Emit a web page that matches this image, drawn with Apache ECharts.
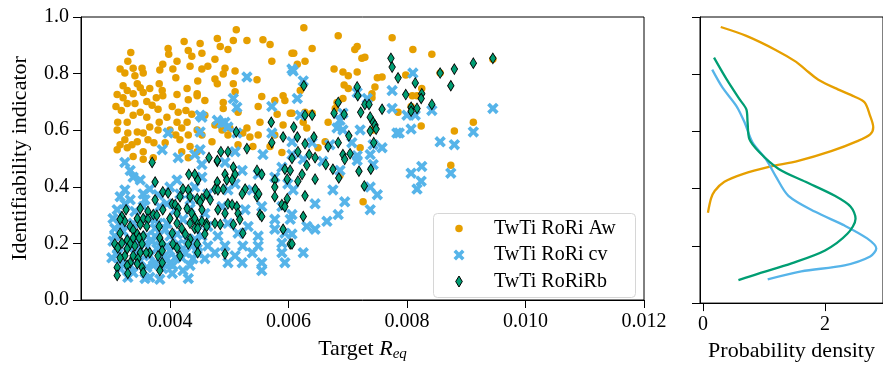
<!DOCTYPE html>
<html><head><meta charset="utf-8">
<script src="https://cdn.jsdelivr.net/npm/echarts@6/dist/echarts.min.js"></script>
<style>html,body{margin:0;padding:0;background:#fff}#c{width:883px;height:367px}</style>
</head><body><div id="c"></div>
<script>
// ---- data ----
const seriesNames = ['TwTi RoRi Aw', 'TwTi RoRi cv', 'TwTi RoRiRb'];
const xTickValues = [0.004, 0.006, 0.008, 0.010, 0.012];
const densityTickValues = [0, 2];

const awPoints = [
[0.00424,0.913],[0.00397,0.889],[0.00334,0.875],[0.00398,0.868],[0.00431,0.882],[0.00437,0.861],[0.00329,0.844],[0.00412,0.844],[0.00388,0.833],[0.00434,0.826],
[0.00338,0.819],[0.00316,0.816],[0.00353,0.819],[0.00383,0.813],[0.00405,0.816],[0.00324,0.802],[0.00355,0.802],[0.00341,0.792],[0.00410,0.785],[0.00447,0.774],
[0.00345,0.764],[0.00382,0.764],[0.00321,0.757],[0.00350,0.750],[0.00366,0.747],[0.00429,0.747],[0.00328,0.740],[0.00387,0.740],[0.00355,0.733],[0.00311,0.726],
[0.00338,0.729],[0.00412,0.726],[0.00321,0.715],[0.00377,0.715],[0.00388,0.722],[0.00431,0.708],[0.00446,0.722],[0.00361,0.701],[0.00328,0.694],[0.00341,0.694],
[0.00370,0.688],[0.00309,0.684],[0.00404,0.684],[0.00318,0.670],[0.00350,0.663],[0.00380,0.674],[0.00414,0.663],[0.00427,0.670],[0.00338,0.653],[0.00361,0.646],
[0.00395,0.646],[0.00437,0.656],[0.00312,0.628],[0.00382,0.628],[0.00412,0.628],[0.00328,0.628],[0.00429,0.628],[0.00366,0.611],[0.00345,0.594],[0.00311,0.601],
[0.00380,0.601],[0.00400,0.601],[0.00420,0.608],[0.00446,0.601],[0.00329,0.590],[0.00355,0.590],[0.00410,0.583],[0.00431,0.583],[0.00324,0.566],[0.00363,0.566],
[0.00345,0.559],[0.00417,0.566],[0.00392,0.556],[0.00316,0.549],[0.00336,0.549],[0.00373,0.556],[0.00434,0.542],[0.00311,0.531],[0.00328,0.538],[0.00355,0.524],
[0.00420,0.524],[0.00446,0.524],[0.00338,0.507],[0.00372,0.503],[0.00431,0.503],[0.00355,0.497],
[0.00512,0.955],[0.00480,0.924],[0.00507,0.917],[0.00530,0.917],[0.00557,0.920],[0.00569,0.903],[0.00451,0.906],[0.00485,0.896],[0.00498,0.885],[0.00454,0.872],
[0.00606,0.872],[0.00476,0.851],[0.00572,0.844],[0.00464,0.826],[0.00493,0.819],[0.00454,0.816],[0.00510,0.809],[0.00490,0.799],[0.00476,0.781],[0.00480,0.764],
[0.00547,0.778],[0.00507,0.764],[0.00510,0.736],[0.00591,0.722],[0.00555,0.719],[0.00594,0.705],[0.00459,0.705],[0.00490,0.698],[0.00549,0.684],[0.00577,0.705],
[0.00490,0.677],[0.00446,0.729],[0.00459,0.653],[0.00581,0.656],[0.00603,0.660],[0.00552,0.628],[0.00515,0.663],[0.00476,0.618],[0.00530,0.608],[0.00591,0.618],
[0.00488,0.601],[0.00501,0.608],[0.00523,0.590],[0.00549,0.583],[0.00454,0.583],[0.00498,0.583],[0.00577,0.583],[0.00535,0.576],[0.00515,0.549],[0.00540,0.542],
[0.00569,0.542],[0.00589,0.521],[0.00471,0.559],
[0.00626,0.962],[0.00684,0.934],[0.00775,0.927],[0.00640,0.889],[0.00716,0.896],[0.00712,0.885],[0.00609,0.872],[0.00628,0.844],[0.00615,0.833],[0.00724,0.854],
[0.00729,0.858],[0.00677,0.816],[0.00692,0.806],[0.00701,0.792],[0.00716,0.806],[0.00750,0.785],[0.00758,0.788],[0.00694,0.760],[0.00701,0.747],[0.00746,0.753],
[0.00741,0.729],[0.00620,0.740],[0.00682,0.698],[0.00692,0.712],[0.00679,0.677],[0.00741,0.715],[0.00628,0.663],[0.00640,0.660],[0.00606,0.660],[0.00667,0.628],
[0.00625,0.628],[0.00631,0.608],[0.00662,0.559],[0.00650,0.538],[0.00721,0.538],[0.00743,0.601],[0.00726,0.347],[0.00687,0.441],
[0.00810,0.885],[0.00842,0.868],[0.00856,0.802],[0.00798,0.795],[0.00825,0.747],[0.00809,0.722],[0.00817,0.722],[0.00807,0.684],[0.00785,0.663],[0.00824,0.615],
[0.00945,0.851],[0.00912,0.628],[0.00880,0.597],[0.00874,0.476]
];

const cvPoints = [
[0.00397,0.590],[0.00387,0.531],[0.00414,0.503],[0.00442,0.514],[0.00451,0.653],[0.00451,0.594],[0.00324,0.486],
[0.00333,0.458],[0.00338,0.434],[0.00350,0.424],[0.00412,0.424],[0.00324,0.389],[0.00316,0.365],[0.00355,0.375],[0.00417,0.375],[0.00380,0.372],
[0.00333,0.354],[0.00311,0.319],[0.00395,0.340],[0.00434,0.354],[0.00355,0.330],[0.00316,0.271],[0.00338,0.271],[0.00366,0.285],[0.00380,0.271],[0.00395,0.271],
[0.00422,0.285],[0.00446,0.267],[0.00307,0.226],[0.00333,0.215],[0.00361,0.226],[0.00375,0.226],[0.00400,0.226],[0.00412,0.233],[0.00429,0.215],[0.00442,0.215],
[0.00311,0.181],[0.00350,0.181],[0.00378,0.181],[0.00395,0.191],[0.00422,0.181],[0.00446,0.181],[0.00316,0.146],[0.00366,0.156],[0.00395,0.146],[0.00420,0.149],
[0.00439,0.146],[0.00333,0.122],[0.00361,0.115],[0.00372,0.122],[0.00388,0.111],[0.00405,0.122],[0.00434,0.122],[0.00316,0.111],[0.00366,0.080],[0.00431,0.076],
[0.00404,0.094],[0.00338,0.097],[0.00307,0.253],
[0.00304,0.208],[0.00312,0.163],[0.00321,0.243],[0.00329,0.191],[0.00341,0.163],[0.00345,0.205],[0.00358,0.198],[0.00370,0.208],[0.00383,0.191],[0.00387,0.149],
[0.00400,0.174],[0.00409,0.149],[0.00414,0.198],[0.00426,0.167],[0.00437,0.191],[0.00321,0.122],[0.00350,0.139],[0.00375,0.132],[0.00400,0.128],[0.00422,0.104],
[0.00358,0.076],[0.00383,0.073],[0.00329,0.080],[0.00302,0.149],[0.00375,0.253],[0.00341,0.313],[0.00392,0.250],[0.00324,0.340],[0.00304,0.288],[0.00358,0.354],
[0.00383,0.330],[0.00409,0.319],[0.00434,0.323],[0.00442,0.399],[0.00366,0.392],[0.00400,0.399],
[0.00530,0.788],[0.00606,0.816],[0.00507,0.712],[0.00513,0.681],[0.00572,0.684],[0.00454,0.646],[0.00480,0.635],[0.00493,0.628],[0.00498,0.611],[0.00488,0.625],
[0.00513,0.590],[0.00572,0.590],[0.00451,0.531],[0.00510,0.524],[0.00557,0.514],[0.00606,0.559],
[0.00454,0.479],[0.00493,0.486],[0.00522,0.458],[0.00454,0.434],[0.00510,0.410],[0.00549,0.444],[0.00577,0.434],[0.00589,0.469],[0.00464,0.375],[0.00498,0.389],
[0.00539,0.389],[0.00599,0.410],[0.00459,0.306],[0.00488,0.330],[0.00527,0.319],[0.00555,0.330],[0.00589,0.330],[0.00464,0.260],[0.00498,0.271],[0.00532,0.260],
[0.00577,0.285],[0.00603,0.285],[0.00454,0.226],[0.00481,0.226],[0.00515,0.236],[0.00549,0.226],[0.00577,0.250],[0.00594,0.236],[0.00464,0.191],[0.00493,0.191],
[0.00523,0.191],[0.00549,0.191],[0.00589,0.201],[0.00447,0.167],[0.00476,0.167],[0.00510,0.156],[0.00539,0.167],[0.00589,0.167],[0.00459,0.146],[0.00522,0.132],
[0.00555,0.132],[0.00594,0.132],[0.00498,0.132],[0.00555,0.104],
[0.00608,0.809],[0.00625,0.774],[0.00615,0.712],[0.00775,0.740],[0.00775,0.677],[0.00716,0.733],[0.00733,0.712],[0.00620,0.653],[0.00692,0.660],[0.00687,0.635],
[0.00682,0.608],[0.00692,0.601],[0.00721,0.601],[0.00783,0.590],[0.00640,0.556],[0.00670,0.549],[0.00707,0.556],[0.00743,0.549],[0.00758,0.538],[0.00738,0.514],
[0.00716,0.510],[0.00658,0.490],[0.00625,0.497],[0.00606,0.514],
[0.00716,0.493],[0.00743,0.479],[0.00675,0.389],[0.00645,0.340],[0.00695,0.347],[0.00738,0.399],[0.00750,0.372],[0.00738,0.319],[0.00684,0.302],[0.00665,0.278],
[0.00631,0.260],[0.00645,0.250],[0.00606,0.302],[0.00606,0.233],[0.00625,0.167],[0.00687,0.458],[0.00608,0.389],
[0.00810,0.802],[0.00800,0.653],[0.00814,0.653],[0.00842,0.670],[0.00945,0.677],[0.00787,0.590],[0.00807,0.604],[0.00912,0.594],[0.00856,0.559],[0.00880,0.549],
[0.00825,0.472],[0.00807,0.448],[0.00824,0.420],[0.00817,0.392],[0.00874,0.448]
];

const rbPoints = [
[0.00370,0.486],[0.00375,0.417],[0.00432,0.444],[0.00442,0.444],[0.00447,0.424],[0.00388,0.382],[0.00397,0.378],[0.00422,0.392],[0.00431,0.389],[0.00375,0.354],
[0.00417,0.365],[0.00434,0.365],[0.00446,0.358],[0.00404,0.340],[0.00409,0.337],[0.00429,0.323],[0.00350,0.323],[0.00326,0.319],[0.00388,0.319],[0.00414,0.323],
[0.00363,0.313],[0.00372,0.302],[0.00378,0.299],[0.00400,0.288],[0.00412,0.306],[0.00437,0.306],[0.00319,0.295],[0.00345,0.288],[0.00355,0.288],[0.00363,0.285],
[0.00324,0.278],[0.00316,0.285],[0.00333,0.260],[0.00350,0.267],[0.00361,0.260],[0.00338,0.247],[0.00382,0.260],[0.00412,0.271],[0.00434,0.271],[0.00446,0.271],
[0.00420,0.253],[0.00442,0.253],[0.00316,0.236],[0.00345,0.233],[0.00355,0.226],[0.00404,0.236],[0.00426,0.233],[0.00338,0.219],[0.00328,0.212],[0.00348,0.219],
[0.00383,0.219],[0.00434,0.215],[0.00307,0.198],[0.00319,0.201],[0.00333,0.198],[0.00341,0.191],[0.00353,0.198],[0.00387,0.198],[0.00405,0.198],[0.00431,0.198],
[0.00312,0.184],[0.00328,0.181],[0.00350,0.167],[0.00366,0.167],[0.00360,0.167],[0.00387,0.174],[0.00412,0.184],[0.00417,0.156],[0.00324,0.156],[0.00338,0.156],
[0.00346,0.146],[0.00380,0.156],[0.00316,0.149],[0.00333,0.132],[0.00345,0.128],[0.00387,0.132],[0.00311,0.115],[0.00328,0.122],[0.00353,0.115],[0.00355,0.097],
[0.00383,0.104],[0.00311,0.087],[0.00329,0.094],
[0.00571,0.628],[0.00512,0.594],[0.00591,0.576],[0.00572,0.556],[0.00530,0.535],[0.00486,0.524],[0.00498,0.524],[0.00466,0.503],[0.00480,0.490],[0.00606,0.500],
[0.00480,0.493],[0.00507,0.469],[0.00510,0.444],[0.00493,0.444],[0.00496,0.424],[0.00505,0.424],[0.00480,0.417],[0.00547,0.458],[0.00555,0.444],[0.00594,0.462],
[0.00603,0.458],[0.00598,0.427],[0.00476,0.392],[0.00490,0.392],[0.00577,0.424],[0.00577,0.399],[0.00527,0.392],[0.00522,0.375],[0.00544,0.392],[0.00547,0.365],
[0.00550,0.375],[0.00462,0.375],[0.00454,0.358],[0.00468,0.354],[0.00481,0.389],[0.00577,0.365],[0.00598,0.358],[0.00589,0.337],[0.00594,0.330],[0.00498,0.340],
[0.00505,0.337],[0.00513,0.330],[0.00451,0.347],[0.00454,0.319],[0.00481,0.319],[0.00493,0.306],[0.00515,0.306],[0.00552,0.302],[0.00555,0.295],[0.00442,0.288],
[0.00518,0.285],[0.00454,0.278],[0.00462,0.271],[0.00476,0.271],[0.00485,0.267],[0.00507,0.267],[0.00447,0.253],[0.00462,0.260],[0.00459,0.233],[0.00523,0.236],
[0.00591,0.250],[0.00603,0.198],[0.00446,0.198],[0.00447,0.167],[0.00493,0.163],
[0.00626,0.757],[0.00773,0.854],[0.00775,0.823],[0.00785,0.785],[0.00716,0.753],[0.00717,0.722],[0.00684,0.698],[0.00729,0.691],[0.00736,0.691],[0.00758,0.674],
[0.00677,0.660],[0.00694,0.656],[0.00722,0.663],[0.00628,0.653],[0.00640,0.653],[0.00738,0.646],[0.00743,0.628],[0.00746,0.618],[0.00738,0.597],[0.00748,0.604],
[0.00609,0.611],[0.00702,0.580],[0.00615,0.576],[0.00643,0.576],[0.00628,0.552],[0.00684,0.556],[0.00744,0.556],[0.00667,0.542],[0.00616,0.524],[0.00635,0.514],
[0.00692,0.514],[0.00704,0.517],[0.00645,0.503],[0.00695,0.497],
[0.00631,0.476],[0.00663,0.479],[0.00675,0.462],[0.00685,0.431],[0.00719,0.455],[0.00739,0.462],[0.00645,0.427],[0.00623,0.444],[0.00616,0.420],[0.00728,0.403],
[0.00628,0.368],[0.00625,0.295],[0.00606,0.198],
[0.00814,0.767],[0.00856,0.802],[0.00880,0.816],[0.00912,0.837],[0.00945,0.854],[0.00874,0.757],[0.00798,0.726],[0.00825,0.729],[0.00824,0.712],[0.00842,0.691],
[0.00807,0.681],[0.00817,0.677],[0.00807,0.667]
];

// density curves: [density, identifiability]
const awDensity = [[0.29,0.965],[0.71,0.934],[1.19,0.885],[1.52,0.844],[1.68,0.816],[1.89,0.781],[2.21,0.747],[2.48,0.722],[2.65,0.701],[2.73,0.660],[2.79,0.615],[2.74,0.590],[2.53,0.566],[2.10,0.531],[1.56,0.497],[1.08,0.476],[0.65,0.451],[0.35,0.424],[0.19,0.392],[0.13,0.365],[0.08,0.316]];
const cvDensity = [[0.15,0.816],[0.32,0.753],[0.55,0.688],[0.68,0.632],[0.81,0.562],[1.03,0.503],[1.19,0.444],[1.40,0.375],[1.84,0.319],[2.32,0.271],[2.69,0.226],[2.84,0.191],[2.74,0.163],[2.32,0.132],[1.61,0.111],[1.06,0.083]];
const rbDensity = [[0.18,0.858],[0.39,0.781],[0.60,0.712],[0.71,0.677],[0.73,0.632],[0.76,0.573],[0.92,0.528],[1.24,0.469],[1.68,0.424],[2.16,0.375],[2.42,0.337],[2.50,0.295],[2.37,0.243],[2.00,0.184],[1.45,0.139],[0.92,0.104],[0.58,0.080]];

// ---- styling ----
const FONT = "'Liberation Serif', 'DejaVu Serif', serif";
const C_AW = '#E69F00', C_CV = '#56B4E9', C_RB = '#009E73';
const X_PATH = 'path://M2.3,0L5,2.7L7.7,0L10,2.3L7.3,5L10,7.7L7.7,10L5,7.3L2.3,10L0,7.7L2.7,5L0,2.3Z';
const D_PATH = 'path://M3,0L6,5L3,10L0,5Z';
const axisBase = {
  axisLine: {show: true, onZero: false, lineStyle: {color: '#000', width: 1}},
  axisTick: {show: true, length: 8, lineStyle: {color: '#000', width: 1}},
  splitLine: {show: false}
};
const labelBase = {fontFamily: FONT, fontSize: 20, color: '#000'};

const chart = echarts.init(document.getElementById('c'), null, {renderer: 'canvas'});
chart.setOption({
  animation: false,
  backgroundColor: '#fff',
  grid: [
    {left: 81, top: 17, width: 563, height: 288, show: true, borderColor: '#000', borderWidth: 1, backgroundColor: 'transparent'},
    {left: 700, top: 17, width: 186, height: 288, show: true, borderColor: '#000', borderWidth: 1, backgroundColor: 'transparent'}
  ],
  xAxis: [
    Object.assign({}, axisBase, {
      gridIndex: 0, type: 'value', min: 0.0025, max: 0.012,
      axisTick: Object.assign({}, axisBase.axisTick, {customValues: xTickValues}),
      axisLabel: Object.assign({}, labelBase, {customValues: xTickValues, margin: 12, formatter: v => v.toFixed(3)}),
      name: 'Target {r|R}{s|eq}', nameLocation: 'middle', nameGap: 36,
      nameTextStyle: {fontFamily: FONT, fontSize: 22, color: '#000',
        rich: {r: {fontFamily: FONT, fontSize: 22, fontStyle: 'italic', color: '#000'},
               s: {fontFamily: FONT, fontSize: 15, fontStyle: 'italic', color: '#000', padding: [11, 0, 0, 0]}}}
    }),
    Object.assign({}, axisBase, {
      gridIndex: 1, type: 'value', min: -0.05, max: 2.95,
      axisTick: Object.assign({}, axisBase.axisTick, {customValues: densityTickValues}),
      axisLabel: Object.assign({}, labelBase, {customValues: densityTickValues, margin: 12, formatter: v => String(v)}),
      name: 'Probability density', nameLocation: 'middle', nameGap: 36,
      nameTextStyle: {fontFamily: FONT, fontSize: 22, color: '#000'}
    })
  ],
  yAxis: [
    Object.assign({}, axisBase, {
      gridIndex: 0, type: 'value', min: 0, max: 1, interval: 0.2,
      axisLabel: Object.assign({}, labelBase, {margin: 12, formatter: v => v.toFixed(1)}),
      name: 'Identifiability indicator', nameLocation: 'middle', nameGap: 50,
      nameTextStyle: {fontFamily: FONT, fontSize: 22, color: '#000'}
    }),
    Object.assign({}, axisBase, {
      gridIndex: 1, type: 'value', min: 0, max: 1, interval: 0.2,
      axisLabel: {show: false}
    })
  ],
  legend: [
    {data: [{name: seriesNames[0], icon: 'circle', itemStyle: {color: C_AW}}], left: 455.25, top: 218.5, padding: 0,
     itemWidth: 60, itemHeight: 7.5, textStyle: labelBase, selectedMode: false, z: 10},
    {data: [{name: seriesNames[1], icon: X_PATH, itemStyle: {color: C_CV}}], left: 453.5, top: 245, padding: 0,
     itemWidth: 60, itemHeight: 11, textStyle: labelBase, selectedMode: false, z: 10},
    {data: [{name: seriesNames[2], icon: D_PATH, itemStyle: {color: C_RB, borderColor: '#000', borderWidth: 1}}], left: 455.2, top: 271.5, padding: 0,
     itemWidth: 60, itemHeight: 11, textStyle: labelBase, selectedMode: false, z: 10}
  ],
  graphic: [{
    type: 'rect', left: 433, top: 213, z: 8,
    shape: {width: 202, height: 84, r: 4},
    style: {fill: 'rgba(255,255,255,0.85)', stroke: '#d6d6d6', lineWidth: 1}
  }],
  series: [
    {name: seriesNames[0], type: 'scatter', xAxisIndex: 0, yAxisIndex: 0, data: awPoints,
     symbol: 'circle', symbolSize: 7.5, itemStyle: {color: C_AW, opacity: 1}, z: 2},
    {name: seriesNames[1], type: 'scatter', xAxisIndex: 0, yAxisIndex: 0, data: cvPoints,
     symbol: X_PATH, symbolSize: 11.5, itemStyle: {color: C_CV, opacity: 1}, z: 3},
    {name: seriesNames[2], type: 'scatter', xAxisIndex: 0, yAxisIndex: 0, data: rbPoints,
     symbol: 'diamond', symbolSize: [6.5, 10.5], itemStyle: {color: C_RB, borderColor: '#000', borderWidth: 0.9, opacity: 1}, z: 4},
    {name: 'density Aw', type: 'line', xAxisIndex: 1, yAxisIndex: 1, data: awDensity, showSymbol: false, symbol: 'none',
     smooth: 0.3, lineStyle: {color: C_AW, width: 2.3}},
    {name: 'density cv', type: 'line', xAxisIndex: 1, yAxisIndex: 1, data: cvDensity, showSymbol: false, symbol: 'none',
     smooth: 0.3, lineStyle: {color: C_CV, width: 2.3}},
    {name: 'density Rb', type: 'line', xAxisIndex: 1, yAxisIndex: 1, data: rbDensity, showSymbol: false, symbol: 'none',
     smooth: 0.3, lineStyle: {color: C_RB, width: 2.3}}
  ]
});
</script>
</body></html>
